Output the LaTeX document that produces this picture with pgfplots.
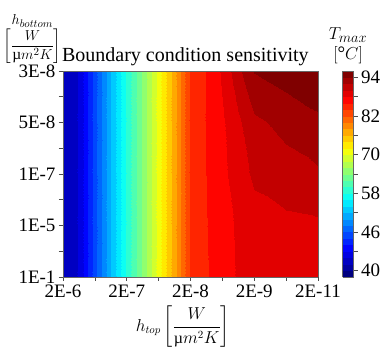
\documentclass[border=0pt]{standalone}
\usepackage{fontspec}
\setmainfont{Liberation Serif}
\usepackage{amsmath}
\usepackage{pgfplots}
\pgfplotsset{compat=1.18}
\pgfplotstableread{
x y t
0 0 36.3
0.25 0 38.2
0.5 0 45.2
0.75 0 52
1 0 58.5
1.25 0 64.5
1.5 0 71.2
1.75 0 77.5
2 0 84.2
2.25 0 85.8
2.5 0 87.1
2.75 0 88.2
3 0 88.8
3.5 0 89.3
4 0 89.6

0 1 36.3
0.25 1 38.2
0.5 1 45.2
0.75 1 52
1 1 58.5
1.25 1 64.5
1.5 1 71.2
1.75 1 77.5
2 1 84.2
2.25 1 85.9
2.5 1 87.2
2.75 1 88.3
3 1 89.1
3.5 1 89.5
4 1 89.7

0 2 36.3
0.25 2 38.2
0.5 2 45.2
0.75 2 52
1 2 58.5
1.25 2 64.5
1.5 2 71.2
1.75 2 77.5
2 2 84.3
2.25 2 86.0
2.5 2 87.5
2.75 2 89.0
3 2 90.4
3.5 2 91.2
4 2 91.7

0 3 36.3
0.25 3 38.2
0.5 3 45.2
0.75 3 52
1 3 58.5
1.25 3 64.5
1.5 3 71.2
1.75 3 77.5
2 3 84.3
2.25 3 86.1
2.5 3 87.7
2.75 3 89.6
3 3 91.6
3.5 3 92.6
4 3 93.6

0 4 36.3
0.25 4 38.2
0.5 4 45.2
0.75 4 52
1 4 58.5
1.25 4 64.5
1.5 4 71.2
1.75 4 77.5
2 4 84.3
2.25 4 86.1
2.5 4 88.3
2.75 4 91.5
3 4 94.1
3.5 4 95.0
4 4 95.6
}\tdata
\begin{document}
\begin{tikzpicture}
\begin{axis}[name=ax,
  scale only axis, width=255pt, height=206pt,
  view={0}{90},
  xmin=0, xmax=4, ymin=0, ymax=4,
  xtick={0,1,2,3,4}, xticklabels={2E-6,2E-7,2E-8,2E-9,2E-11},
  ytick={0,1,2,3,4}, yticklabels={1E-1,1E-5,1E-7,5E-8,3E-8},
  minor xtick={0.5,1.5,2.5,3.5}, minor ytick={0.5,1.5,2.5,3.5},
  tick align=outside, tick pos=left,
  major tick length=4pt, minor tick length=4pt,
  tick style={black!70, line width=0.6pt},
  axis line style={black!60, line width=0.6pt},
  tick label style={font=\fontsize{19}{20}\selectfont},
  title={Boundary condition sensitivity},
  title style={font=\fontsize{20}{22}\selectfont, at={(axis description cs:0.48,1)}, anchor=south, yshift=-4pt},
  xlabel={$h_{top}\left[\dfrac{W}{\text{µ}m^2K}\right]$},
  xlabel style={font=\fontsize{16}{18}\selectfont, at={(ticklabel cs:0.47)}, anchor=north, yshift=-2pt},
  ylabel={\begin{tabular}{@{}c@{}}$h_{bottom}$\\[-1pt]$\left[\dfrac{W}{\text{µ}m^2K}\right]$\end{tabular}},
  ylabel style={rotate=-90, font=\fontsize{15.5}{17}\selectfont, at={(axis description cs:-0.12,1.0)}, anchor=south, yshift=4pt},
  colormap/jet,
  point meta min=32, point meta max=96,
  colorbar,
  colorbar style={
    width=11pt,
    at={(parent axis.north east)}, anchor=north west, xshift=16pt,
    ytick={34,46,58,70,82,94},
    yticklabels={40,46,58,70,82,94},
    minor ytick={40,52,64,76,88},
    tick align=outside,
    ytick pos=right, yticklabel pos=right,
    major tick length=4pt, minor tick length=4pt,
    tick style={black!70, line width=0.6pt},
    axis line style={black!60, line width=0.6pt},
    tick label style={font=\fontsize{19}{20}\selectfont},
    title={\begin{tabular}{@{}c@{}}$T_{max}$\\$[°C]$\end{tabular}},
    title style={font=\fontsize{19}{20}\selectfont, yshift=-4pt},
  },
]
\addplot3[contour filled={levels={32,34,36,38,40,42,44,46,48,50,52,54,56,58,60,62,64,66,68,70,72,74,76,78,80,82,84,86,88,90,92,94,96}}, mesh/cols=15] table[x=x,y=y,z=t] {\tdata};
\end{axis}
\pgfresetboundingbox
\path ([xshift=-63pt,yshift=-70pt]ax.south west) rectangle ([xshift=62pt,yshift=71pt]ax.north east);
\end{tikzpicture}
\end{document}
